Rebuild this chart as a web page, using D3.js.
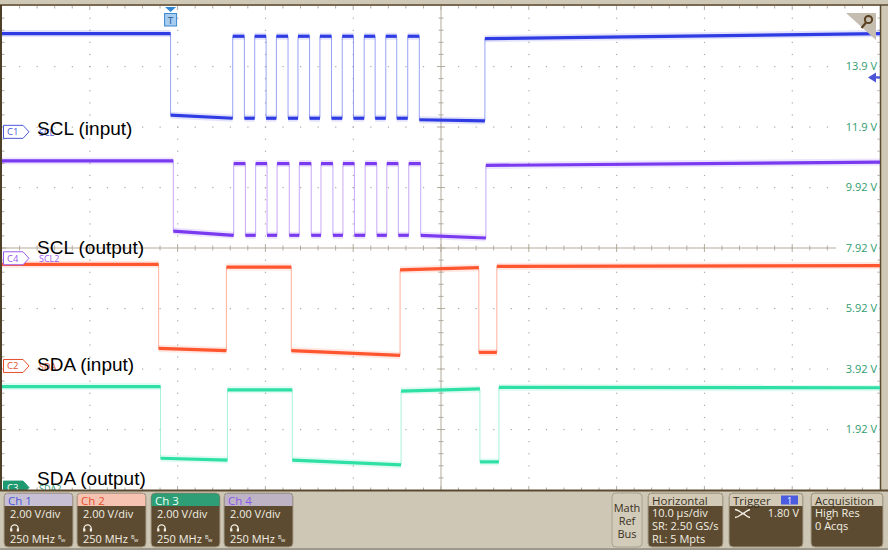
<!DOCTYPE html>
<html><head><meta charset="utf-8">
<script src="https://cdn.jsdelivr.net/npm/d3@7"></script>
<style>body{margin:0;background:#fff}svg{display:block}</style>
</head><body><svg id="c" width="888" height="550"></svg>
<script>
// ---------------- data ----------------
const timeDomainUs = [-19.2, 80.8];          // 10 µs/div, trigger at 0
const voltsPerDiv = 2.0;
const rightTickDivs   = [3, 2, 1, 0, -1, -2, -3];
const rightTickLabels = ["13.9 V", "11.9 V", "9.92 V", "7.92 V", "5.92 V", "3.92 V", "1.92 V"];
const triggerLevelV = 1.80;

// [time µs, volts]
const sclInput = [[-19.2,3.25],[0,3.25],[0,0.55],[7.08,0.45],[7.08,3.16],[8.41,3.16],[8.41,0.45],[9.58,0.45],[9.58,3.16],[10.88,3.16],[10.88,0.45],[12.05,0.45],[12.05,3.16],[13.38,3.16],[13.38,0.45],[14.51,0.45],[14.51,3.16],[15.83,3.16],[15.83,0.45],[17.01,0.45],[17.01,3.16],[18.33,3.16],[18.33,0.45],[19.55,0.45],[19.55,3.16],[20.83,3.16],[20.83,0.45],[22.05,0.45],[22.05,3.16],[23.30,3.16],[23.30,0.45],[24.51,0.45],[24.51,3.16],[25.76,3.16],[25.76,0.45],[27.01,0.45],[27.01,3.16],[28.33,3.16],[28.33,0.40],[35.80,0.36],[35.80,3.08],[80.8,3.25]];
const sclOutput = [[-19.2,3.22],[0.31,3.22],[0.31,0.90],[7.19,0.76],[7.19,3.13],[8.52,3.13],[8.52,0.76],[9.69,0.76],[9.69,3.13],[10.99,3.13],[10.99,0.76],[12.13,0.76],[12.13,3.13],[13.52,3.13],[13.52,0.76],[14.66,0.76],[14.66,3.13],[16.02,3.13],[16.02,0.76],[17.13,0.76],[17.13,3.13],[18.49,3.13],[18.49,0.76],[19.63,0.76],[19.63,3.13],[20.94,3.13],[20.94,0.76],[22.16,0.76],[22.16,3.13],[23.49,3.13],[23.49,0.76],[24.63,0.76],[24.63,3.13],[25.94,3.13],[25.94,0.76],[27.13,0.76],[27.13,3.13],[28.49,3.13],[28.49,0.76],[35.91,0.67],[35.91,3.07],[80.8,3.18]];
const sdaInput = [[-19.2,3.36],[-1.36,3.36],[-1.36,0.58],[6.36,0.51],[6.36,3.27],[13.75,3.27],[13.75,0.51],[26.14,0.35],[26.14,3.18],[35.11,3.25],[35.11,0.45],[37.16,0.45],[37.16,3.29],[80.8,3.32]];
const sdaOutput = [[-19.2,3.34],[-1.14,3.34],[-1.14,0.97],[6.48,0.91],[6.48,3.23],[13.86,3.23],[13.86,0.91],[26.25,0.75],[26.25,3.19],[35.23,3.26],[35.23,0.85],[37.39,0.85],[37.39,3.31],[80.8,3.30]];

const channelNames  = ["Ch 1", "Ch 2", "Ch 3", "Ch 4"];
const channelScales = ["2.00 V/div", "2.00 V/div", "2.00 V/div", "2.00 V/div"];
const channelBw     = ["250 MHz", "250 MHz", "250 MHz", "250 MHz"];
const horizontalInfo = ["10.0 µs/div", "SR: 2.50 GS/s", "RL: 5 Mpts"];
const acquisitionInfo = ["High Res", "0 Acqs"];

// ---------------- layout ----------------
const svg = d3.select("#c");
const X0 = 2, X1 = 880, Y0 = 6, Y1 = 490;
const x = d3.scaleLinear().domain(timeDomainUs).range([X0, X1]);
const yDiv = d3.scaleLinear().domain([-4, 4]).range([Y1, Y0]);
const xDiv = d3.scaleLinear().domain([-5, 5]).range([X0, X1]);

const traces = [
  {id:"C1", tag:"SCL",  label:"SCL (input)",  data:sclInput,  pos:1.92,  labelDy:3,    core:"#2f3ce4", edge:"#7f8cf0", mark:"#4a58d8"},
  {id:"C4", tag:"SCL2", label:"SCL (output)", data:sclOutput, pos:-0.17, labelDy:-3.8, core:"#7a3af0", edge:"#b993f6", mark:"#9a5cf0"},
  {id:"C2", tag:"SDA",  label:"SDA (input)",  data:sdaInput,  pos:-1.95, labelDy:5,    core:"#ff5630", edge:"#ff9c84", mark:"#e8502e"},
  {id:"C3", tag:"SDA2", label:"SDA (output)", data:sdaOutput, pos:-3.96, labelDy:-2.6, core:"#2fe0a6", edge:"#92f0d2", mark:"#1f9a70", filled:true}
];
const yOf = (t, v) => yDiv(t.pos + v / voltsPerDiv);

// background frame
svg.append("rect").attr("x",0).attr("y",0).attr("width",888).attr("height",550).attr("fill","#cfc8b6");
svg.append("rect").attr("x",X0).attr("y",Y0).attr("width",X1-X0).attr("height",Y1-Y0).attr("fill","#ffffff");
svg.append("line").attr("x1",0).attr("x2",888).attr("y1",5).attr("y2",5).attr("stroke","#5a4a30").attr("stroke-width",1.5);
svg.append("rect").attr("x",0).attr("y",5).attr("width",2).attr("height",Y1-5).attr("fill","#4e3f28");
svg.append("line").attr("x1",X1+0.5).attr("x2",X1+0.5).attr("y1",5).attr("y2",Y1).attr("stroke","#5a4a30").attr("stroke-width",1.5);

// graticule
const g = svg.append("g");
const gridDot = "#a9a9a9";
for (let i = -4; i <= 4; i++) {
  if (i === 0) continue;
  for (let k = 1; k < 40; k++) {
    g.append("rect").attr("x", xDiv(i) - 0.5).attr("y", yDiv(-4 + k / 5) - 0.5).attr("width", 1.2).attr("height", 1.2).attr("fill", gridDot);
  }
}
for (let j = -3; j <= 3; j++) {
  if (j === 0) continue;
  for (let k = 1; k < 50; k++) {
    g.append("rect").attr("x", xDiv(-5 + k / 5) - 0.5).attr("y", yDiv(j) - 0.5).attr("width", 1.2).attr("height", 1.2).attr("fill", gridDot);
  }
}
// center lines with ticks
const axisCol = "#b3ab9b";
g.append("line").attr("x1",xDiv(0)).attr("x2",xDiv(0)).attr("y1",Y0).attr("y2",Y1).attr("stroke",axisCol);
g.append("line").attr("x1",X0).attr("x2",X1).attr("y1",yDiv(0)).attr("y2",yDiv(0)).attr("stroke",axisCol);
for (let k = 1; k < 50; k++) {
  const xx = xDiv(-5 + k / 5), L = (k % 5 === 0) ? 4 : 2.5;
  g.append("line").attr("x1",xx).attr("x2",xx).attr("y1",yDiv(0)-L).attr("y2",yDiv(0)+L).attr("stroke",axisCol);
  g.append("line").attr("x1",xx).attr("x2",xx).attr("y1",Y1).attr("y2",Y1-L).attr("stroke",axisCol);
  g.append("line").attr("x1",xx).attr("x2",xx).attr("y1",Y0).attr("y2",Y0+L).attr("stroke",axisCol);
}
for (let k = 1; k < 40; k++) {
  const yy = yDiv(-4 + k / 5), L = (k % 5 === 0) ? 4 : 2.5;
  g.append("line").attr("x1",xDiv(0)-L).attr("x2",xDiv(0)+L).attr("y1",yy).attr("y2",yy).attr("stroke",axisCol);
  g.append("line").attr("x1",X0).attr("x2",X0+L).attr("y1",yy).attr("y2",yy).attr("stroke",axisCol);
  g.append("line").attr("x1",X1).attr("x2",X1-L).attr("y1",yy).attr("y2",yy).attr("stroke",axisCol);
}

// right-hand voltage labels
rightTickDivs.forEach((d, i) => {
  svg.append("rect").attr("x", 836).attr("y", yDiv(d) - 7).attr("width", 43).attr("height", 14).attr("fill", "#fff");
  svg.append("text").attr("x", 877).attr("y", yDiv(d)).attr("dy", "0.36em").attr("text-anchor", "end")
    .attr("font-family", "Open Sans, DejaVu Sans, sans-serif").attr("font-size", 11).attr("fill", "#2f9c6e")
    .text(rightTickLabels[i]);
});

// traces
const line = d3.line().x(d => x(d[0])).y(d => d[1]);
traces.forEach(t => {
  const pts = t.data.map(d => [d[0], yOf(t, d[1])]);
  const tg = svg.append("g");
  tg.append("path").attr("d", line(pts)).attr("fill", "none").attr("stroke", t.edge).attr("stroke-width", 1).attr("opacity", 0.8);
  const flats = d3.pairs(pts).filter(([a, b]) => a[0] !== b[0]);
  tg.selectAll(".fz").data(flats).join("path").attr("d", d => line(d))
    .attr("fill","none").attr("stroke", t.core).attr("stroke-width", 7).attr("opacity", 0.14);
  tg.selectAll(".cr").data(flats).join("path").attr("d", d => line(d))
    .attr("fill","none").attr("stroke", t.core).attr("stroke-width", 3.2);
});

// channel markers + labels
traces.forEach(t => {
  const yy = yOf(t, 0);
  svg.append("path").attr("d", `M3.5,${yy-6.5}H23L29,${yy}L23,${yy+6.5}H3.5Z`)
    .attr("fill", t.filled ? t.mark : "#fff").attr("stroke", t.mark).attr("stroke-width", 1);
  svg.append("text").attr("x", 7).attr("y", yy + 3.5).attr("font-family", "Open Sans, DejaVu Sans, sans-serif")
    .attr("font-size", 9.5).attr("fill", t.filled ? "#fff" : t.mark).text(t.id);
  svg.append("text").attr("x", 39).attr("y", yy + 4).attr("font-family", "Open Sans, DejaVu Sans, sans-serif")
    .attr("font-size", 9).attr("fill", t.mark).text(t.tag);
  svg.append("text").attr("x", 37).attr("y", yy + t.labelDy).attr("font-family", "Liberation Sans, Arial, sans-serif")
    .attr("font-size", 19).attr("fill", "#000").text(t.label);
});

// trigger position marker
const tx = x(0);
svg.append("path").attr("d", `M${tx-5.5},7H${tx+5.5}L${tx},12Z`).attr("fill", "#2f86d6");
svg.append("rect").attr("x", tx - 6).attr("y", 13.5).attr("width", 12).attr("height", 12.5).attr("fill", "#a6cdf0").attr("stroke", "#3a8ad2");
svg.append("text").attr("x", tx).attr("y", 23.5).attr("text-anchor", "middle").attr("font-family", "DejaVu Sans, sans-serif")
  .attr("font-size", 9).attr("fill", "#2a5f98").text("T");

// trigger level arrow (channel 1)
const ty = yOf(traces[0], triggerLevelV);
svg.append("path").attr("d", `M868,${ty}L876,${ty-5}V${ty-1.2}H880V${ty+1.2}H876V${ty+5}Z`).attr("fill", "#4b55d6");

// zoom icon corner
svg.append("path").attr("d", "M846,13H876V40Z").attr("fill", "#c5bdb0");
svg.append("circle").attr("cx", 868.5).attr("cy", 19.5).attr("r", 3.6).attr("fill", "none").attr("stroke", "#5b4122").attr("stroke-width", 2);
svg.append("line").attr("x1", 866).attr("y1", 22.5).attr("x2", 861.5).attr("y2", 28).attr("stroke", "#5b4122").attr("stroke-width", 2.2);

// ---------------- status bar ----------------
svg.append("rect").attr("x", 0).attr("y", 490).attr("width", 888).attr("height", 60).attr("fill", "#cec7b5");
svg.append("line").attr("x1", 0).attr("x2", 888).attr("y1", 490.5).attr("y2", 490.5).attr("stroke", "#5a4a30").attr("stroke-width", 2);
svg.append("line").attr("x1", 0).attr("x2", 888).attr("y1", 549).attr("y2", 549).attr("stroke", "#8e8a80").attr("stroke-width", 1.5);

const FONT = "Open Sans, DejaVu Sans, sans-serif";
const BODY = "#5c4b31";
function box(x0, w, headFill, headText, headColor) {
  const b = svg.append("g");
  b.append("rect").attr("x", x0).attr("y", 493).attr("width", w).attr("height", 54).attr("rx", 4).attr("fill", BODY).attr("stroke", "#a89f8b");
  b.append("path").attr("d", `M${x0+0.5},506V497.5Q${x0+0.5},493.5 ${x0+4.5},493.5H${x0+w-4.5}Q${x0+w-0.5},493.5 ${x0+w-0.5},497.5V506Z`).attr("fill", headFill);
  b.append("text").attr("x", x0 + 4).attr("y", 504.5).attr("font-family", FONT).attr("font-size", 11.5).attr("fill", headColor).text(headText);
  return b;
}
const chHead = [["#c7c0d4", "#4a5ad8"], ["#f6c3b3", "#e5502c"], ["#2e9e76", "#eafff6"], ["#bdb3c4", "#8a58e8"]];
const chX = [4, 77, 151, 224];
channelNames.forEach((n, i) => {
  const b = box(chX[i], 69, chHead[i][0], n, chHead[i][1]);
  const x0 = chX[i];
  b.append("text").attr("x", x0 + 6).attr("y", 518).attr("font-family", FONT).attr("font-size", 11).attr("fill", "#f3efe4").text(channelScales[i]);
  b.append("path").attr("d", `M${x0+7},531V528.5A3.6,3.6 0 0 1 ${x0+14.2},528.5V531`).attr("fill", "none").attr("stroke", "#f3efe4").attr("stroke-width", 1.2);
  b.append("rect").attr("x", x0 + 6.2).attr("y", 528.5).attr("width", 2.2).attr("height", 3).attr("fill", "#f3efe4");
  b.append("rect").attr("x", x0 + 12.8).attr("y", 528.5).attr("width", 2.2).attr("height", 3).attr("fill", "#f3efe4");
  b.append("text").attr("x", x0 + 6).attr("y", 543).attr("font-family", FONT).attr("font-size", 11).attr("fill", "#f3efe4").text(channelBw[i]);
  b.append("text").attr("x", x0 + 54).attr("y", 539).attr("font-family", FONT).attr("font-size", 5.5).attr("fill", "#f3efe4").text("B");
  b.append("text").attr("x", x0 + 57).attr("y", 542).attr("font-family", FONT).attr("font-size", 5.5).attr("fill", "#f3efe4").text("w");
});

// Math Ref Bus
svg.append("rect").attr("x", 612).attr("y", 493).attr("width", 30).attr("height", 54).attr("rx", 4).attr("fill", "#d2cbba").attr("stroke", "#aaa290");
["Math", "Ref", "Bus"].forEach((s, i) => svg.append("text").attr("x", 627).attr("y", 512 + i * 13).attr("text-anchor", "middle")
  .attr("font-family", FONT).attr("font-size", 11).attr("fill", "#3b3222").text(s));

// Horizontal
const hb = box(648, 75, "#d2cab7", "Horizontal", "#3b3222");
horizontalInfo.forEach((s, i) => hb.append("text").attr("x", 652).attr("y", 517 + i * 13).attr("font-family", FONT).attr("font-size", 11).attr("fill", "#f3efe4").text(s));

// Trigger
const tb = box(729, 74, "#d2cab7", "Trigger", "#3b3222");
tb.append("rect").attr("x", 781).attr("y", 495.5).attr("width", 17).attr("height", 9).attr("fill", "#4b5ce0");
tb.append("text").attr("x", 789.5).attr("y", 503.5).attr("text-anchor", "middle").attr("font-family", FONT).attr("font-size", 9).attr("fill", "#fff").text("1");
tb.append("path").attr("d", "M735,509.5C739,510 741,513 743,513.5C745,513 747,510 750,509.5M735,517.5C739,517 741,514 743,513.5C745,514 747,517 750,517.5")
  .attr("fill", "none").attr("stroke", "#f3efe4").attr("stroke-width", 1.3);
tb.append("text").attr("x", 799).attr("y", 517).attr("text-anchor", "end").attr("font-family", FONT).attr("font-size", 11).attr("fill", "#f3efe4").text(triggerLevelV.toFixed(2) + " V");

// Acquisition
const ab = box(811, 72, "#d2cab7", "Acquisition", "#3b3222");
acquisitionInfo.forEach((s, i) => ab.append("text").attr("x", 815).attr("y", 517 + i * 13).attr("font-family", FONT).attr("font-size", 11).attr("fill", "#f3efe4").text(s));
</script>
</body></html>
